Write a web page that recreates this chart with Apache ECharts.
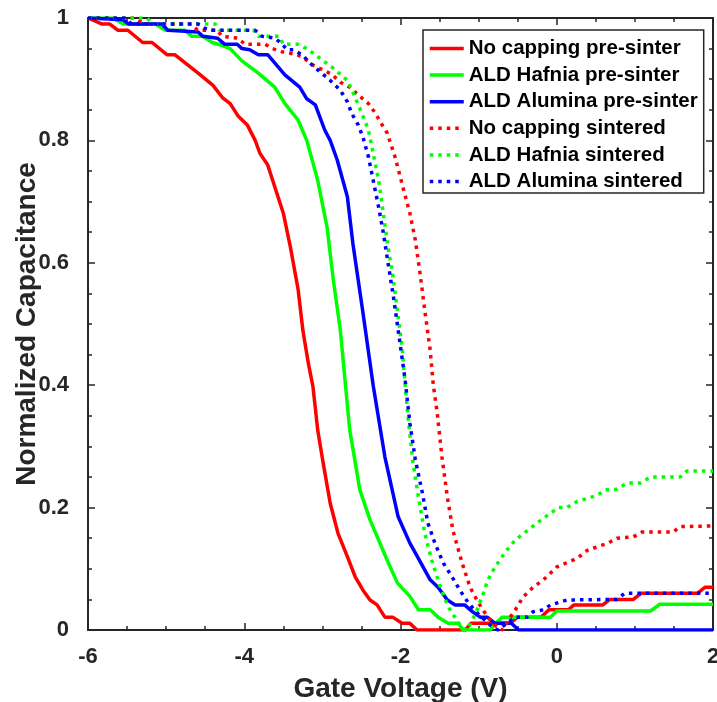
<!DOCTYPE html>
<html>
<head>
<meta charset="utf-8">
<script src="https://cdn.jsdelivr.net/npm/echarts@6/dist/echarts.min.js"></script>
<style>
html, body { margin: 0; padding: 0; background: #fff; }
#main { width: 717px; height: 702px; }
</style>
</head>
<body>
<div id="main"></div>
<script>
// 数据：[栅压 V, 归一化电容]
var noCapPre = [[-6,1],[-5.82,0.99],[-5.72,0.99],[-5.62,0.98],[-5.49,0.98],[-5.30,0.96],[-5.18,0.96],[-4.99,0.94],[-4.89,0.94],
    [-4.59,0.91],[-4.40,0.89],[-4.28,0.87],[-4.18,0.86],[-4.08,0.84],[-3.96,0.825],[-3.86,0.80],[-3.80,0.779],[-3.70,0.76],
    [-3.50,0.681],[-3.41,0.626],[-3.31,0.556],[-3.25,0.49],[-3.18,0.436],[-3.12,0.397],[-3.06,0.327],[-2.99,0.273],[-2.90,0.207],
    [-2.80,0.158],[-2.68,0.12],[-2.58,0.087],[-2.48,0.065],[-2.39,0.049],[-2.30,0.041],[-2.20,0.021],[-2.10,0.021],[-1.98,0.011],
    [-1.88,0.011],[-1.79,0],[-1.17,0],[-1.10,0.011],[-0.60,0.011],[-0.50,0.021],[-0.20,0.021],[-0.10,0.033],[0.15,0.033],
    [0.22,0.041],[0.59,0.041],[0.68,0.05],[0.98,0.05],[1.08,0.06],[1.80,0.06],[1.90,0.07],[2,0.07]];

var hafniaPre = [[-6,1],[-5.68,1],[-5.55,0.99],[-5.14,0.99],[-5.01,0.98],[-4.76,0.98],[-4.67,0.97],[-4.53,0.97],[-4.41,0.96],
    [-4.28,0.955],[-4.18,0.95],[-4.03,0.93],[-3.82,0.91],[-3.61,0.887],[-3.48,0.86],[-3.31,0.833],[-3.20,0.80],[-3.06,0.735],
    [-2.94,0.658],[-2.86,0.572],[-2.77,0.49],[-2.71,0.408],[-2.65,0.327],[-2.52,0.229],[-2.39,0.18],[-2.17,0.114],[-2.04,0.077],
    [-1.88,0.055],[-1.77,0.033],[-1.62,0.033],[-1.52,0.021],[-1.39,0.011],[-1.26,0.011],[-1.20,0],[-0.85,0],[-0.78,0.011],
    [-0.70,0.021],[-0.08,0.021],[0,0.031],[1.2,0.031],[1.32,0.042],[2,0.042]];

var aluminaPre = [[-6,1],[-5.55,0.997],[-5.48,0.99],[-5.05,0.99],[-4.98,0.98],[-4.59,0.977],[-4.53,0.97],[-4.34,0.967],
    [-4.25,0.957],[-4.09,0.957],[-4.03,0.95],[-3.93,0.948],[-3.82,0.94],[-3.70,0.94],[-3.48,0.907],[-3.29,0.887],[-3.20,0.868],
    [-3.09,0.858],[-2.97,0.817],[-2.90,0.80],[-2.81,0.768],[-2.68,0.708],[-2.61,0.632],[-2.48,0.518],[-2.35,0.40],[-2.20,0.283],
    [-2.03,0.185],[-1.88,0.142],[-1.81,0.126],[-1.62,0.082],[-1.52,0.07],[-1.40,0.049],[-1.30,0.041],[-1.18,0.041],[-1.08,0.03],
    [-0.98,0.021],[-0.89,0.021],[-0.79,0.011],[-0.58,0.011],[-0.49,0],[2,0]];

var noCapSint = [[-6,1],[-5.4,1],[-5.27,0.99],[-4.67,0.99],[-4.60,0.98],[-4.35,0.98],[-4.28,0.97],[-4.08,0.967],[-3.99,0.957],
    [-3.73,0.957],[-3.64,0.95],[-3.52,0.945],[-3.32,0.94],[-3.22,0.933],[-3.12,0.923],[-2.99,0.915],[-2.88,0.908],[-2.77,0.895],
    [-2.65,0.887],[-2.54,0.874],[-2.41,0.86],[-2.33,0.846],[-2.22,0.822],[-2.17,0.812],[-2.07,0.773],[-1.97,0.724],[-1.88,0.681],
    [-1.81,0.637],[-1.75,0.583],[-1.69,0.523],[-1.62,0.457],[-1.58,0.40],[-1.53,0.355],[-1.47,0.283],[-1.40,0.217],[-1.33,0.163],
    [-1.21,0.109],[-1.11,0.07],[-1.01,0.046],[-0.92,0.028],[-0.83,0.013],[-0.75,0.003],[-0.69,0],[-0.60,0.02],[-0.53,0.033],
    [-0.43,0.054],[-0.30,0.07],[-0.17,0.082],[0,0.103],[0.13,0.11],[0.26,0.117],[0.39,0.13],[0.52,0.136],[0.66,0.142],
    [0.77,0.15],[0.98,0.152],[1.09,0.16],[1.49,0.16],[1.58,0.169],[2,0.17]];

var hafniaSint = [[-6,1],[-5.25,1],[-5.15,0.99],[-4.37,0.99],[-4.32,0.98],[-3.88,0.98],[-3.82,0.97],[-3.55,0.97],[-3.50,0.957],
    [-3.31,0.957],[-3.20,0.95],[-3.09,0.94],[-2.99,0.93],[-2.88,0.92],[-2.77,0.908],[-2.68,0.898],[-2.62,0.882],[-2.54,0.858],
    [-2.45,0.83],[-2.41,0.817],[-2.35,0.779],[-2.28,0.735],[-2.22,0.681],[-2.16,0.626],[-2.09,0.572],[-2.03,0.511],[-1.98,0.462],
    [-1.94,0.40],[-1.90,0.343],[-1.84,0.273],[-1.77,0.217],[-1.69,0.158],[-1.60,0.114],[-1.49,0.07],[-1.39,0.038],[-1.28,0.016],
    [-1.21,0.003],[-1.15,0],[-1.08,0.016],[-1.02,0.033],[-0.94,0.06],[-0.88,0.082],[-0.79,0.103],[-0.66,0.127],[-0.53,0.147],
    [-0.40,0.16],[-0.25,0.175],[-0.11,0.188],[0.02,0.20],[0.13,0.20],[0.26,0.21],[0.39,0.215],[0.52,0.22],[0.62,0.229],
    [0.77,0.23],[0.90,0.24],[1.07,0.24],[1.20,0.25],[1.58,0.25],[1.67,0.26],[2,0.26]];

var aluminaSint = [[-6,1],[-5.53,1],[-5.44,0.99],[-4.59,0.99],[-4.50,0.983],[-4.40,0.98],[-3.86,0.98],[-3.77,0.97],[-3.61,0.967],
    [-3.52,0.958],[-3.45,0.948],[-3.37,0.948],[-3.26,0.94],[-3.13,0.923],[-3.03,0.912],[-2.90,0.898],[-2.77,0.882],[-2.68,0.863],
    [-2.62,0.843],[-2.54,0.825],[-2.48,0.805],[-2.41,0.773],[-2.35,0.735],[-2.28,0.691],[-2.22,0.649],[-2.16,0.60],[-2.09,0.544],
    [-2.03,0.49],[-1.94,0.408],[-1.88,0.338],[-1.81,0.278],[-1.72,0.224],[-1.65,0.175],[-1.56,0.142],[-1.45,0.109],[-1.34,0.087],
    [-1.24,0.065],[-1.13,0.044],[-1.02,0.028],[-0.92,0.016],[-0.81,0.003],[-0.75,0],[-0.64,0.011],[-0.53,0.021],[-0.38,0.021],
    [-0.30,0.03],[-0.17,0.033],[-0.08,0.041],[0.13,0.049],[0.77,0.05],[0.87,0.06],[2,0.06]];

var seriesNames = ['No capping pre-sinter', 'ALD Hafnia pre-sinter', 'ALD Alumina pre-sinter',
    'No capping sintered', 'ALD Hafnia sintered', 'ALD Alumina sintered'];
var seriesData = [noCapPre, hafniaPre, aluminaPre, noCapSint, hafniaSint, aluminaSint];
var colors = ['#ff0000', '#00ff00', '#0000ff', '#ff0000', '#00ff00', '#0000ff'];

var chart = echarts.init(document.getElementById('main'));
var font = '"Liberation Sans", Arial, Helvetica, sans-serif';
var ink = '#262626';

// 上/右镜像坐标轴，只画刻度
function boxAxis(pos, min, max, interval) {
    return {
        type: 'value', position: pos, min: min, max: max, interval: interval,
        axisLine: {show: true, onZero: false, lineStyle: {color: ink, width: 2}},
        axisTick: {show: true, inside: true, length: 7, lineStyle: {color: ink, width: 1.5}},
        minorTick: {show: true, splitNumber: 4, length: 4, lineStyle: {color: ink, width: 1.5}},
        axisLabel: {show: false},
        splitLine: {show: false}
    };
}

var series = [];
for (var i = 0; i < seriesData.length; i++) {
    series.push({
        name: seriesNames[i],
        type: 'line',
        data: seriesData[i],
        symbol: 'none',
        lineStyle: {
            color: colors[i],
            width: 3.5,
            type: i < 3 ? 'solid' : [3.5, 5]
        },
        itemStyle: {color: colors[i]},
        z: 3
    });
}

var option = {
    animation: false,
    backgroundColor: '#fff',
    grid: {left: 88, right: 4, top: 18, bottom: 72, containLabel: false, outerBoundsMode: 'none'},
    legend: {
        orient: 'vertical',
        left: 423, top: 30,
        data: seriesNames,
        itemWidth: 34, itemHeight: 14, itemGap: 5.6,
        padding: [8, 6, 1, 5],
        backgroundColor: '#fff',
        borderColor: ink, borderWidth: 1.5, borderRadius: 0,
        itemStyle: {opacity: 0},
        lineStyle: {width: 3.5},
        textStyle: {fontFamily: font, fontSize: 20.5, fontWeight: 'bold', color: '#000', lineHeight: 20}
    },
    xAxis: [
        {
            type: 'value', position: 'bottom', min: -6, max: 2, interval: 2,
            name: 'Gate Voltage (V)', nameLocation: 'middle', nameGap: 45, nameMoveOverlap: false,
            nameTextStyle: {fontFamily: font, fontSize: 28, fontWeight: 'bold', color: ink},
            axisLine: {show: true, onZero: false, lineStyle: {color: ink, width: 2}},
            axisTick: {show: true, inside: true, length: 7, lineStyle: {color: ink, width: 1.5}},
            minorTick: {show: true, splitNumber: 4, length: 4, lineStyle: {color: ink, width: 1.5}},
            axisLabel: {fontFamily: font, fontSize: 22, fontWeight: 'bold', color: ink, margin: 16},
            splitLine: {show: false}
        },
        boxAxis('top', -6, 2, 2)
    ],
    yAxis: [
        {
            type: 'value', position: 'left', min: 0, max: 1, interval: 0.2,
            name: 'Normalized Capacitance', nameLocation: 'middle', nameGap: 47, nameMoveOverlap: false,
            nameTextStyle: {fontFamily: font, fontSize: 28, fontWeight: 'bold', color: ink},
            axisLine: {show: true, onZero: false, lineStyle: {color: ink, width: 2}},
            axisTick: {show: true, inside: true, length: 7, lineStyle: {color: ink, width: 1.5}},
            minorTick: {show: true, splitNumber: 4, length: 4, lineStyle: {color: ink, width: 1.5}},
            axisLabel: {fontFamily: font, fontSize: 22, fontWeight: 'bold', color: ink, margin: 19},
            splitLine: {show: false}
        },
        boxAxis('right', 0, 1, 0.2)
    ],
    series: series
};

chart.setOption(option);
</script>
</body>
</html>
